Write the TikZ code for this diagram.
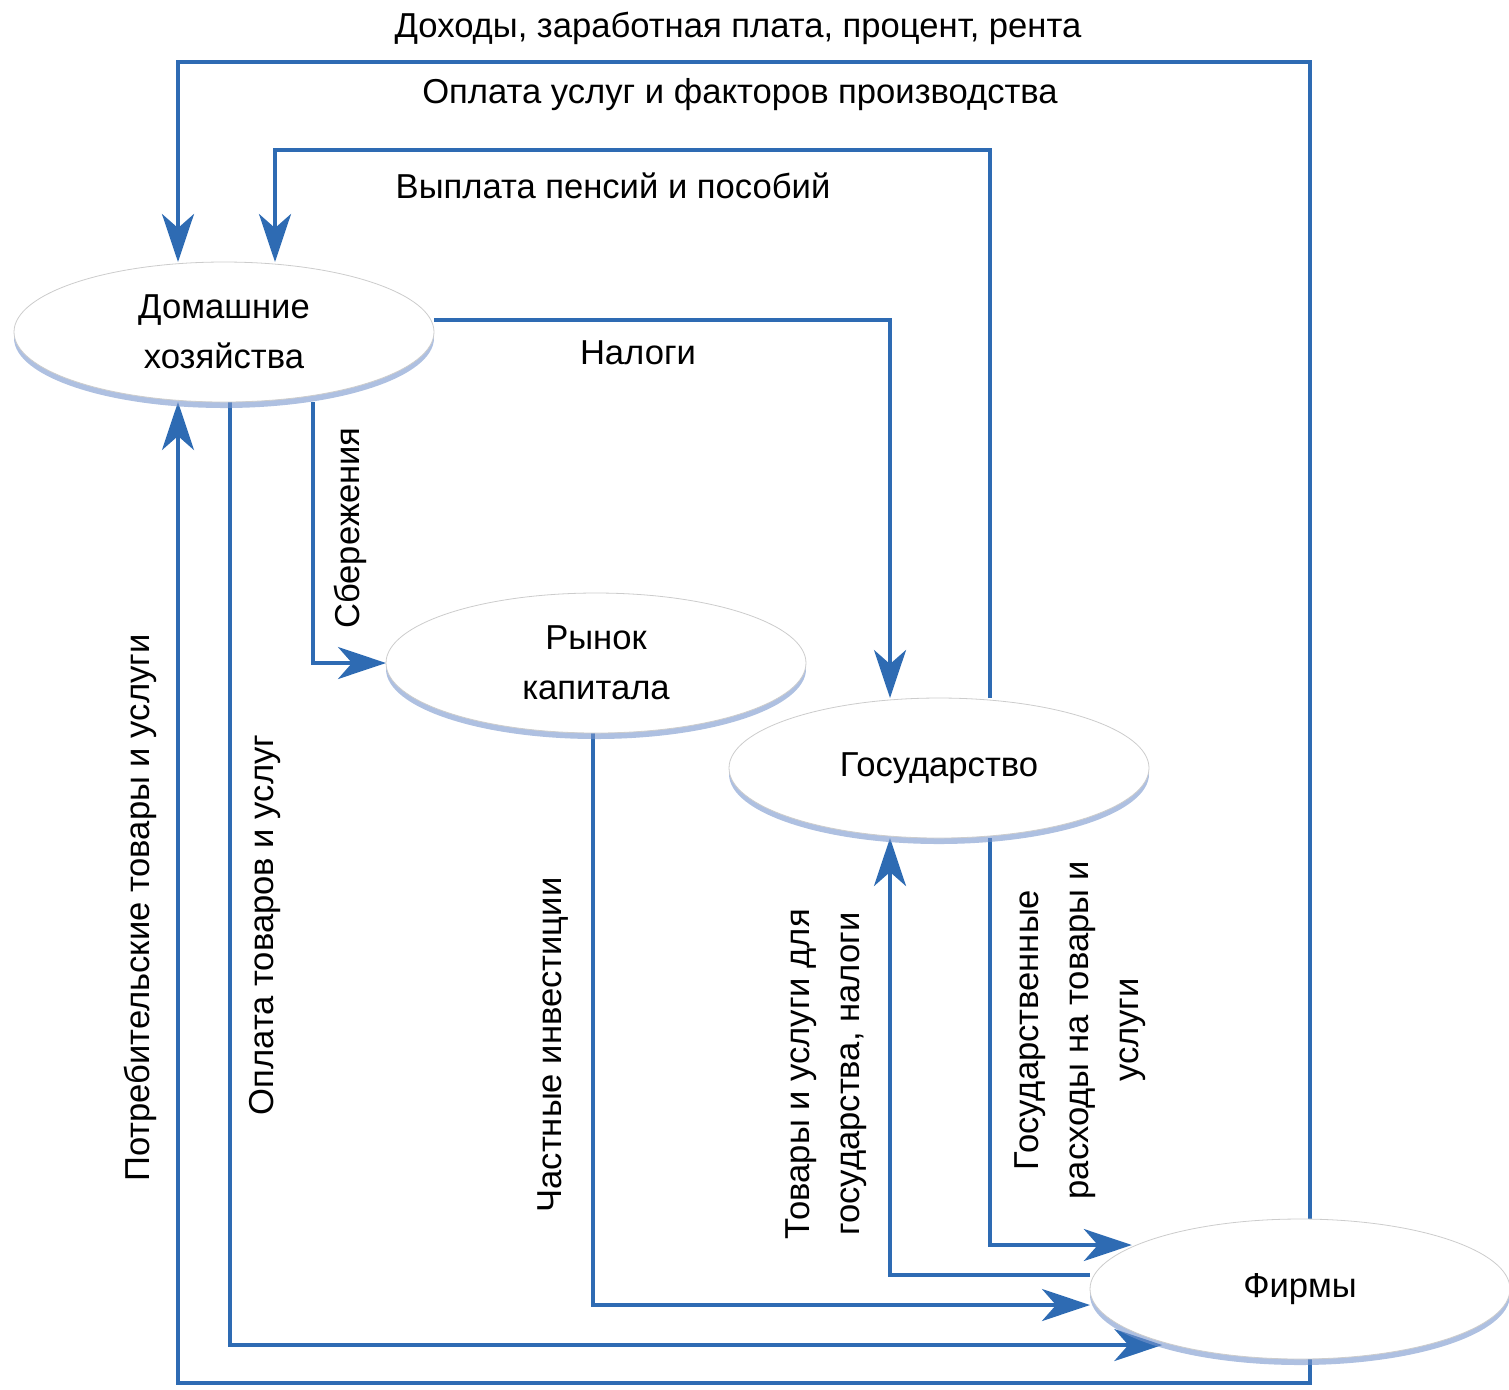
\documentclass[tikz,border=0pt]{standalone}
\usepackage{fontspec}
\setmainfont{Liberation Sans}
\usetikzlibrary{shapes.geometric,arrows.meta,shadows}
\definecolor{flowblue}{HTML}{2E6BB3}
\definecolor{shadeblue}{RGB}{120,150,205}
\pgfdeclarelayer{back}
\pgfsetlayers{back,main}

\begin{document}
\begin{tikzpicture}[x=0.5pt,y=-0.5pt]
            \tikzstyle{every node}+=[inner sep=0pt, font=\fontsize{17.3}{25}\selectfont]
            \tikzstyle{sector}=[ellipse, draw=gray!40, fill=white, outer sep=0pt, minimum width=210pt, minimum height=70pt, align=center,
                drop shadow={shadow xshift=0pt, shadow yshift=-3pt, fill=shadeblue, opacity=0.6}]
            \tikzstyle{flow}=[flowblue, line width=2pt, -{Stealth[length=24pt,width=16pt,inset=7pt]}]
            \tikzstyle{flowlabel}=[align=center]
            \useasboundingbox (0,0) rectangle (1509,1389);
            % sectors
            \node [sector] (hh) at (224,332) {Домашние\\хозяйства};
            \node [sector] (rk) at (596,663) {Рынок\\капитала};
            \node [sector] (gv) at (939,768) {Государство};
            \node [sector] (fi) at (1300,1289) {Фирмы};
            % corners of the flows
            \coordinate (tr) at (1310,62);
            \coordinate (tl) at (178,62);
            \coordinate (pr) at (990,150);
            \coordinate (pl) at (275,150);
            \coordinate (tx) at (890,320);
            \coordinate (sv) at (313,663);
            \coordinate (pi) at (593,1305);
            \coordinate (gg) at (890,1275);
            \coordinate (gs) at (990,1245);
            \coordinate (pg) at (230,1345);
            \coordinate (cb) at (1310,1383);
            \coordinate (cl) at (178,1383);
            \begin{pgfonlayer}{back}
            \draw [flow] (fi.north -| tr) -- (tr) -- (tl) -- (hh.north -| tl);
            \draw [flow] (gv.north -| pr) -- (pr) -- (pl) -- (hh.north -| pl);
            \draw [flow] (tx -| hh.east) -- (tx) -- (gv.north -| tx);
            \draw [flow] (hh.south -| sv) -- (sv) -- (rk.west);
            \draw [flow] (rk.south -| pi) -- (pi) -- (pi -| fi.west);
            \draw [flow] (gg -| fi.west) -- (gg) -- (gv.south -| gg);
            \draw [flow] (gv.south -| gs) -- (gs) -- (gs -| fi.166);
            \draw [flow] (hh.south -| pg) -- (pg) -- (pg -| fi.201);
            \draw [flow] (fi.south -| cb) -- (cb) -- (cl) -- (hh.south -| cl);
            \end{pgfonlayer}
            % labels
            \node (lbIncome) at (738,28) {Доходы, заработная плата, процент, рента};
            \node (lbPay) at (740,95) {Оплата услуг и факторов производства};
            \node (lbPens) at (613,186) {Выплата пенсий и пособий};
            \node (lbTax) at (638,353) {Налоги};
            \node [rotate=90] (lbSave) at (350,528) {Сбережения};
            \node [rotate=90] (lbCons) at (140,908) {Потребительские товары и услуги};
            \node [rotate=90] (lbPayG) at (265,925) {Оплата товаров и услуг};
            \node [rotate=90] (lbInv) at (553,1045) {Частные инвестиции};
            \node [rotate=90, flowlabel] (lbGG) at (826,1074) {Товары и услуги для\\государства, налоги};
            \node [rotate=90, flowlabel] (lbGS) at (1080,1030) {Государственные\\расходы на товары и\\услуги};
\end{tikzpicture}
\end{document}
